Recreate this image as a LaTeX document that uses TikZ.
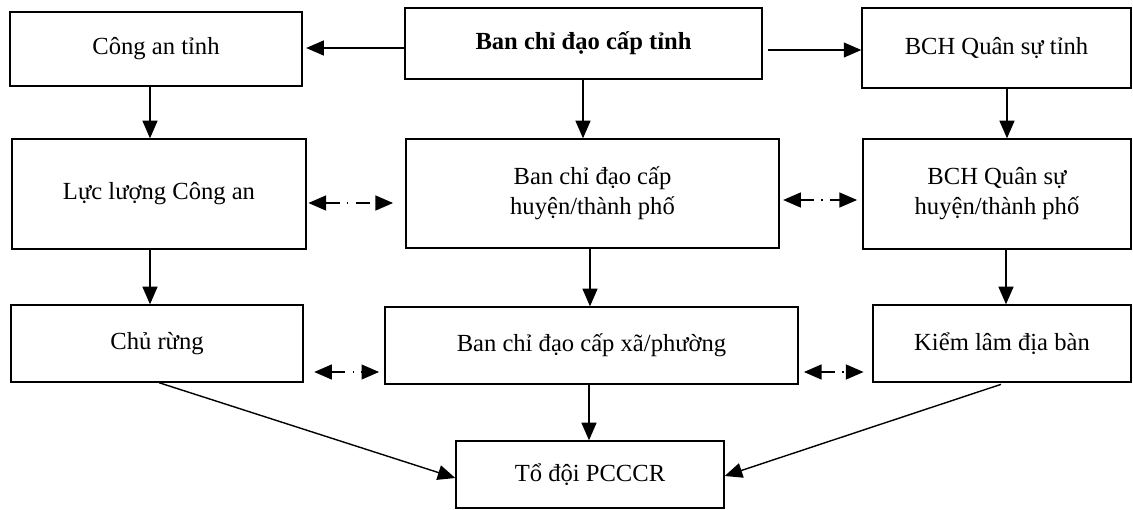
\documentclass[tikz,border=0pt]{standalone}
\usepackage{fontspec}
\setmainfont{Liberation Serif}
\usetikzlibrary{arrows.meta}
\tikzset{
  box/.style={draw, line width=0.8pt, align=center, inner sep=2pt, font=\fontsize{14}{17}\selectfont},
  arr/.style={-{Triangle[length=10pt,width=8.5pt]}, line width=0.8pt},
  darr/.style={{Triangle[length=10pt,width=8.5pt]}-{Triangle[length=10pt,width=8.5pt]}, line width=0.8pt, dash pattern=on 8pt off 4pt on 1pt off 4pt},
}

\begin{document}
\begin{tikzpicture}[x=0.02cm, y=-0.02cm]
    \useasboundingbox (0,0) rectangle (1133,510);

    % cap tinh
    \node[box, minimum width=5.84cm, minimum height=1.48cm] (CA) at (156,49) {Công an tỉnh};
    \node[box, minimum width=7.14cm, minimum height=1.42cm] (BCD) at (583.5,43.5) {\textbf{Ban chỉ đạo cấp tỉnh}};
    \node[box, minimum width=5.38cm, minimum height=1.6cm] (QS) at (996.5,48) {BCH Quân sự tỉnh};

    % cap huyen
    \node[box, minimum width=5.88cm, minimum height=2.2cm] (LL) at (159,194) {Lực lượng Công an};
    \node[box, minimum width=7.46cm, minimum height=2.18cm] (BCDH) at (592.5,193.5) {Ban chỉ đạo cấp\\huyện/thành phố};
    \node[box, minimum width=5.36cm, minimum height=2.2cm] (QSH) at (997,194) {BCH Quân sự\\huyện/thành phố};

    % cap xa
    \node[box, minimum width=5.84cm, minimum height=1.54cm] (CR) at (157,343.5) {Chủ rừng};
    \node[box, minimum width=8.26cm, minimum height=1.54cm] (BCDX) at (591.5,345.5) {Ban chỉ đạo cấp xã/phường};
    \node[box, minimum width=5.16cm, minimum height=1.54cm] (KL) at (1002,343.5) {Kiểm lâm địa bàn};

    \node[box, minimum width=5.36cm, minimum height=1.34cm] (TD) at (590,474.5) {Tổ đội PCCCR};

    \draw[arr, shorten >=2pt] (BCD.west |- 0,48) -- (CA.east |- 0,48);
    \draw[arr, shorten <=3pt] (BCD.east |- 0,50) -- (QS.west |- 0,50);

    \draw[arr] (CA.south -| 150,0) -- (LL.north -| 150,0);
    \draw[arr] (BCD.south -| 583,0) -- (BCDH.north -| 583,0);
    \draw[arr] (QS.south -| 1007,0) -- (QSH.north -| 1007,0);

    \draw[darr, shorten <=1pt, shorten >=7pt] (LL.east |- 0,203) -- (BCDH.west |- 0,203);
    \draw[darr, shorten <=2pt, shorten >=3pt] (BCDH.east |- 0,200) -- (QSH.west |- 0,200);

    \draw[arr] (LL.south -| 150,0) -- (CR.north -| 150,0);
    \draw[arr] (BCDH.south -| 590,0) -- (BCDX.north -| 590,0);
    \draw[arr] (QSH.south -| 1006,0) -- (KL.north -| 1006,0);

    \draw[darr, shorten <=6pt, shorten >=3pt] (CR.east |- 0,372) -- (BCDX.west |- 0,372);
    \draw[darr, shorten <=3pt, shorten >=5pt] (BCDX.east |- 0,372) -- (KL.west |- 0,372);

    \draw[arr] (CR.south -| 159,0) -- (TD.west |- 0,478);
    \draw[arr] (BCDX.south -| 589,0) -- (TD.north -| 589,0);
    \draw[arr, shorten <=3pt] (KL.south -| 1006,0) -- (TD.east |- 0,476);
\end{tikzpicture}
\end{document}
